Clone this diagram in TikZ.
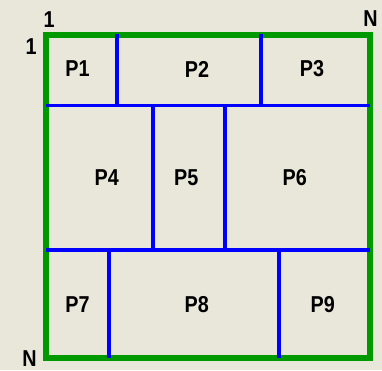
\documentclass[tikz,border=0pt]{standalone}
\usepackage{fontspec}
\newfontfamily\labfont[FakeStretch=0.86]{Liberation Sans Bold}
\definecolor{bgcol}{RGB}{233,231,218}
\definecolor{gridgreen}{RGB}{0,153,0}
\definecolor{gridblue}{RGB}{0,0,255}
\tikzset{
  frame/.style={draw=gridgreen, line width=6pt},
  divider/.style={draw=gridblue, line width=3.7pt},
  lab/.style={inner sep=0pt, font=\labfont\fontsize{23}{23}\selectfont, text=black},
}
\begin{document}
\begin{tikzpicture}[x=1pt, y=-1pt]
\fill[bgcol] (0,0) rectangle (382,370);
\useasboundingbox (0,0) rectangle (382,370);
% frame corners
\coordinate (tl) at (45.5,34.5);
\coordinate (br) at (369.5,358);
\draw[frame] (tl) rectangle (br);
% horizontal dividers
\coordinate (h1l) at (45.5,105.5);
\coordinate (h1r) at (369.5,105.5);
\coordinate (h2l) at (45.5,250);
\coordinate (h2r) at (369.5,250);
\draw[divider] (h1l) -- (h1r);
\draw[divider] (h2l) -- (h2r);
% vertical dividers
\coordinate (v1t) at (117.3,34);
\coordinate (v1b) at (117.3,105.5);
\coordinate (v2t) at (261,34);
\coordinate (v2b) at (261,105.5);
\coordinate (v3t) at (153,105.5);
\coordinate (v3b) at (153,250);
\coordinate (v4t) at (225,105.5);
\coordinate (v4b) at (225,250);
\coordinate (v5t) at (108.7,250);
\coordinate (v5b) at (108.7,357.5);
\coordinate (v6t) at (279,250);
\coordinate (v6b) at (279,357.5);
\draw[divider] (v1t) -- (v1b);
\draw[divider] (v2t) -- (v2b);
\draw[divider] (v3t) -- (v3b);
\draw[divider] (v4t) -- (v4b);
\draw[divider] (v5t) -- (v5b);
\draw[divider] (v6t) -- (v6b);
% region labels
\node[lab] (p1) at (77.5,69) {P1};
\node[lab] (p2) at (197,69) {P2};
\node[lab] (p3) at (312,69) {P3};
\node[lab] (p4) at (106.7,178) {P4};
\node[lab] (p5) at (186.3,178) {P5};
\node[lab] (p6) at (294.7,178) {P6};
\node[lab] (p7) at (77.5,304.5) {P7};
\node[lab] (p8) at (196.7,304.5) {P8};
\node[lab] (p9) at (322.7,304.5) {P9};
% axis labels
\node[lab] (top1) at (49,19.5) {1};
\node[lab] (topN) at (370.5,19) {N};
\node[lab] (left1) at (31,46.5) {1};
\node[lab] (botN) at (29.5,358.5) {N};
\end{tikzpicture}
\end{document}
